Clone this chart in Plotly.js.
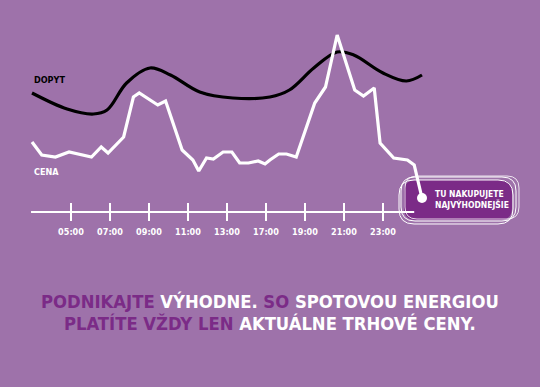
<!DOCTYPE html>
<html>
<head>
<meta charset="utf-8">
<script src="https://cdn.plot.ly/plotly-3.0.1.min.js"></script>
<style>html,body{margin:0;padding:0;background:#9E72AA;}#chart{width:540px;height:387px;}</style>
</head>
<body>
<div id="chart"></div>
<script>
// Hour-slot positions along the time axis
const tickSlots = [5, 7, 9, 11, 13, 15, 17, 19, 21];
const tickLabels = ['05:00', '07:00', '09:00', '11:00', '13:00', '17:00', '19:00', '21:00', '23:00'];

// CENA (price) series
const cenaSlot = [3.0, 3.5, 4.2, 4.9, 6.05, 6.55, 6.9, 7.7, 8.2, 8.5, 9.45, 9.85, 10.7, 11.25, 11.55, 11.95, 12.3, 12.8, 13.25, 13.65, 14.1, 14.6, 14.95, 15.2, 15.65, 16.05, 16.55, 17.5, 18.05, 18.65, 19.55, 20.0, 20.55, 20.85, 21.55, 22.25, 22.6, 23.0];
const cenaVal = [70, 57, 55, 60, 55, 65, 59, 75, 115, 119, 107, 111, 62, 52, 41, 54, 53, 60, 60, 49, 49, 51, 48, 52, 58, 58, 55, 109, 125, 177, 122, 116, 124, 69, 54, 52, 47, 14];

// DOPYT (demand) series
const dopytSlot = [3.0, 4.8, 6.15, 6.85, 7.85, 9.05, 10.1, 11.6, 13.3, 15.2, 16.2, 17.45, 18.65, 19.5, 21.0, 22.2, 23.0];
const dopytVal = [119, 103, 98, 102, 129, 144, 137, 120, 114, 115, 122, 144, 160, 157, 139, 131, 137];

const BG = '#9E72AA';
const DARK = '#7B2B87';
const FONT = '"DejaVu Sans Condensed", "Liberation Sans Narrow", sans-serif';

function P(x, y) { return (x / 540).toFixed(4) + ',' + (1 - y / 387).toFixed(4); }
function rrect(x0, y0, x1, y1, r) {
  return 'M' + P(x0 + r, y0) + ' L' + P(x1 - r, y0) + ' Q' + P(x1, y0) + ' ' + P(x1, y0 + r) +
    ' L' + P(x1, y1 - r) + ' Q' + P(x1, y1) + ' ' + P(x1 - r, y1) +
    ' L' + P(x0 + r, y1) + ' Q' + P(x0, y1) + ' ' + P(x0, y1 - r) +
    ' L' + P(x0, y0 + r) + ' Q' + P(x0, y0) + ' ' + P(x0 + r, y0) + ' Z';
}

const traces = [
  {
    x: dopytSlot, y: dopytVal, mode: 'lines', type: 'scatter',
    line: {color: '#000000', width: 3.2, shape: 'spline', smoothing: 1.0},
    hoverinfo: 'skip'
  },
  {
    x: tickSlots, y: tickSlots.map(() => 0), mode: 'markers', type: 'scatter',
    marker: {symbol: 'line-ns', size: 13, line: {color: '#ffffff', width: 2}},
    hoverinfo: 'skip'
  },
  {
    x: tickSlots, y: tickSlots.map(() => -21), mode: 'text', type: 'scatter',
    text: tickLabels, textposition: 'middle center',
    textfont: {family: FONT, size: 9, color: '#ffffff', weight: 700},
    hoverinfo: 'skip'
  },
  {
    x: cenaSlot, y: cenaVal, mode: 'lines', type: 'scatter',
    line: {color: '#ffffff', width: 3.2},
    hoverinfo: 'skip'
  },
  {
    x: [cenaSlot[cenaSlot.length - 1]], y: [cenaVal[cenaVal.length - 1]], mode: 'markers', type: 'scatter',
    marker: {color: '#ffffff', size: 10},
    hoverinfo: 'skip'
  }
];

const layout = {
  width: 540, height: 387, autosize: false,
  margin: {l: 0, r: 0, t: 0, b: 0, pad: 0},
  paper_bgcolor: BG, plot_bgcolor: BG,
  showlegend: false,
  xaxis: {range: [5 - 71 / 19.5, 5 + 469 / 19.5], visible: false, fixedrange: true},
  yaxis: {range: [-175, 212], visible: false, fixedrange: true},
  shapes: [
    {type: 'line', xref: 'x', yref: 'y', x0: 2.95, x1: 22.6, y0: 0, y1: 0, line: {color: '#ffffff', width: 2}, layer: 'below'},
    {type: 'path', xref: 'paper', yref: 'paper', path: rrect(404, 180, 512, 220, 12), fillcolor: DARK, line: {width: 0}, layer: 'below'},
    {type: 'path', xref: 'paper', yref: 'paper', path: rrect(401, 177, 516, 221, 14), line: {color: '#ffffff', width: 1}, layer: 'below'},
    {type: 'path', xref: 'paper', yref: 'paper', path: rrect(399, 180, 513, 224, 15), line: {color: '#ffffff', width: 1}, layer: 'below'},
    {type: 'path', xref: 'paper', yref: 'paper', path: rrect(405, 176, 519, 219, 12), line: {color: '#ffffff', width: 0.8}, layer: 'below'}
  ],
  annotations: [
    {xref: 'paper', yref: 'paper', x: 32 / 540, y: 1 - 80 / 387, xanchor: 'left', yanchor: 'middle', showarrow: false,
      text: 'DOPYT', font: {family: FONT, size: 9, color: '#000000', weight: 700}},
    {xref: 'paper', yref: 'paper', x: 32 / 540, y: 1 - 172 / 387, xanchor: 'left', yanchor: 'middle', showarrow: false,
      text: 'CENA', font: {family: FONT, size: 9, color: '#ffffff', weight: 700}},
    {xref: 'paper', yref: 'paper', x: 433 / 540, y: 1 - 199 / 387, xanchor: 'left', yanchor: 'middle', showarrow: false, align: 'left',
      text: 'TU NAKUPUJETE<br>NAJVÝHODNEJŠIE', font: {family: FONT, size: 8.5, color: '#ffffff', weight: 700}},
    {xref: 'paper', yref: 'paper', x: 0.5, y: 1 - 301 / 387, xanchor: 'center', yanchor: 'middle', showarrow: false,
      text: '<span style="color:' + DARK + '">PODNIKAJTE</span> VÝHODNE. <span style="color:' + DARK + '">SO</span> SPOTOVOU ENERGIOU',
      font: {family: FONT, size: 18.3, color: '#ffffff', weight: 700}},
    {xref: 'paper', yref: 'paper', x: 0.5, y: 1 - 323 / 387, xanchor: 'center', yanchor: 'middle', showarrow: false,
      text: '<span style="color:' + DARK + '">PLATÍTE VŽDY LEN</span> AKTUÁLNE TRHOVÉ CENY.',
      font: {family: FONT, size: 18.3, color: '#ffffff', weight: 700}}
  ]
};

Plotly.newPlot('chart', traces, layout, {displayModeBar: false, staticPlot: true});
</script>
</body>
</html>
